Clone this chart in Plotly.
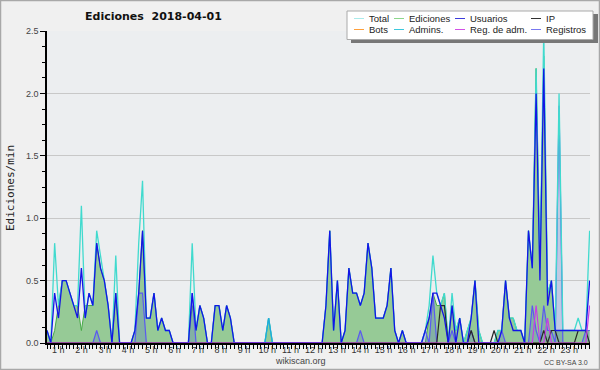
import plotly.graph_objects as go

# 10-minute buckets, index 0..142
usuarios = [
    0.1, 0, 0.4, 0.2, 0.5, 0.5, 0.4, 0.3, 0.2, 0.6, 0.2, 0.4,
    0.3, 0.8, 0.6, 0.5, 0.3, 0, 0.4, 0, 0, 0, 0, 0.1,
    0.4, 0.9, 0.2, 0.2, 0.4, 0.1, 0.2, 0.1, 0.1, 0, 0, 0,
    0, 0, 0.4, 0.1, 0.3, 0.2, 0, 0, 0.3, 0.3, 0.1, 0.3,
    0.2, 0, 0, 0, 0, 0, 0, 0, 0, 0, 0, 0,
    0, 0, 0, 0, 0, 0, 0, 0, 0, 0, 0, 0,
    0, 0.3, 0.9, 0.1, 0.5, 0, 0.1, 0.6, 0.4, 0.4, 0.3, 0.4,
    0.8, 0.6, 0.2, 0.2, 0.2, 0.3, 0.6, 0.1, 0, 0.1, 0, 0,
    0, 0, 0, 0.1, 0.2, 0.4, 0.4, 0.3, 0.2, 0, 0.3, 0,
    0.2, 0, 0, 0.2, 0.5, 0, 0, 0, 0, 0, 0, 0.1,
    0.5, 0.2, 0.1, 0.1, 0.1, 0, 0.9, 0.6, 2.0, 0.5, 2.2, 0.3,
    0.5, 0.1, 0.1, 0.1, 0.1, 0.1, 0.1, 0.1, 0.1, 0.1, 0.5,
]
total = [
    0.1, 0, 0.8, 0.3, 0.5, 0.5, 0.4, 0.3, 0.3, 1.1, 0.2, 0.4,
    0.3, 0.9, 0.7, 0.5, 0.3, 0, 0.7, 0, 0, 0, 0, 0.1,
    0.8, 1.3, 0.2, 0.2, 0.4, 0.1, 0.2, 0.1, 0.1, 0, 0, 0,
    0, 0, 0.8, 0.1, 0.3, 0.2, 0, 0, 0.3, 0.3, 0.1, 0.3,
    0.2, 0, 0, 0, 0, 0, 0, 0, 0, 0, 0.2, 0,
    0, 0, 0, 0, 0, 0, 0, 0, 0, 0, 0, 0,
    0, 0.3, 0.9, 0.1, 0.5, 0, 0.1, 0.6, 0.4, 0.4, 0.3, 0.4,
    0.8, 0.6, 0.2, 0.2, 0.2, 0.3, 0.6, 0.1, 0, 0.1, 0, 0,
    0, 0, 0, 0.1, 0.3, 0.7, 0.4, 0.3, 0.4, 0, 0.4, 0.1,
    0.2, 0, 0.1, 0.2, 0.5, 0.1, 0, 0, 0, 0, 0.1, 0.1,
    0.5, 0.2, 0.2, 0.1, 0.1, 0, 0.9, 0.6, 2.2, 0.6, 2.5, 0.4,
    0.5, 0.1, 2.0, 0.1, 0.1, 0.1, 0.1, 0.2, 0.1, 0.1, 0.9,
]
ediciones = [
    0.1, 0, 0.1, 0.3, 0.5, 0.5, 0.4, 0.3, 0.3, 0.1, 0.3, 0.3,
    0.3, 0.8, 0.6, 0.5, 0.3, 0, 0.4, 0, 0, 0, 0, 0.1,
    0.4, 0.9, 0.2, 0.2, 0.4, 0.1, 0.2, 0.1, 0.1, 0, 0, 0,
    0, 0, 0.3, 0.1, 0.3, 0.2, 0, 0, 0.3, 0.3, 0.1, 0.3,
    0.2, 0, 0, 0, 0, 0, 0, 0, 0, 0, 0.2, 0,
    0, 0, 0, 0, 0, 0, 0, 0, 0, 0, 0, 0,
    0, 0.3, 0.9, 0.1, 0.5, 0, 0.1, 0.6, 0.4, 0.4, 0.3, 0.4,
    0.8, 0.6, 0.2, 0.2, 0.2, 0.3, 0.6, 0.1, 0, 0.1, 0, 0,
    0, 0, 0, 0, 0.2, 0.4, 0.3, 0.3, 0.4, 0, 0.3, 0.1,
    0.2, 0, 0.1, 0.2, 0.5, 0.1, 0, 0, 0, 0, 0.1, 0.1,
    0.5, 0.2, 0.2, 0.1, 0.1, 0, 0.9, 0.6, 2.2, 0.6, 2.3, 0.4,
    0.5, 0.1, 0.1, 0.1, 0.1, 0.1, 0.1, 0.1, 0.1, 0.1, 0.1,
]
ip = [0] * 103 + [0.3, 0.3, 0, 0, 0, 0, 0, 0, 0.1, 0, 0, 0, 0, 0, 0.1, 0,
                  0, 0, 0, 0, 0, 0, 0, 0, 0, 0, 0, 0.1, 0, 0.1, 0.1, 0, 0, 0, 0, 0, 0.1, 0.1, 0.1, 0, 0]
bots = [0] * 143
admins = [0] * 58 + [0.2] + [0] * 84
reg_adm = [0] * 128 + [0.3, 0, 0, 0.2, 0, 0, 0, 0, 0, 0, 0, 0, 0, 0, 0.3]
registros = ([0, 0, 0, 0, 0, 0, 0, 0, 0, 0, 0, 0,
              0, 0.1, 0, 0, 0, 0, 0, 0, 0, 0, 0, 0,
              0.4, 0.4, 0, 0, 0, 0, 0, 0, 0, 0, 0, 0,
              0, 0, 0.4, 0, 0, 0, 0, 0, 0, 0, 0, 0]
             + [0] * 34 + [0.1] + [0] * 16 + [0.1, 0, 0.4, 0, 0, 0, 0, 0.1, 0, 0, 0, 0, 0.1, 0, 0, 0, 0, 0, 0, 0, 0.1,
                           0, 0, 0, 0, 0, 0, 0, 0.3, 0.1, 0, 0.3, 0.1, 0.1, 0, 1.9, 0, 0, 0, 0, 0, 0, 0.1, 0.1])
registros = (registros + [0] * 143)[:143]

hours = list(range(1, 24))
hour_labels = [f"{h} h" for h in hours]

x = list(range(len(usuarios)))
hour_pos = [6.077 * h - 3.12 for h in hours]

L, R, T, B = 47, 10, 31, 27
W, H = 600, 370
PW, PH = W - L - R, H - T - B


def px(xp):
    return (xp - L) / PW


def py(yp):
    return (H - B - yp) / PH


fig = go.Figure()
fig.add_trace(go.Scatter(x=x, y=ediciones, mode="lines", fill="tozeroy",
                         line=dict(color="rgb(70,170,70)", width=1),
                         fillcolor="rgb(150,202,150)", name="Ediciones"))
fig.add_trace(go.Scatter(x=x, y=registros, mode="lines", fill="tozeroy",
                         line=dict(color="rgb(90,90,240)", width=1.2),
                         fillcolor="rgba(90,120,200,0.3)", name="Registros"))
fig.add_trace(go.Scatter(x=x, y=total, mode="lines",
                         line=dict(color="rgb(64,218,206)", width=1.3), name="Total"))
fig.add_trace(go.Scatter(x=x, y=admins, mode="lines",
                         line=dict(color="rgb(30,170,220)", width=1.3), name="Admins."))
fig.add_trace(go.Scatter(x=x, y=bots, mode="lines",
                         line=dict(color="rgb(255,160,40)", width=1), name="Bots"))
fig.add_trace(go.Scatter(x=x, y=ip, mode="lines",
                         line=dict(color="rgb(40,40,40)", width=1.2), name="IP"))
fig.add_trace(go.Scatter(x=x, y=usuarios, mode="lines",
                         line=dict(color="rgb(20,20,230)", width=1.3), name="Usuarios"))
fig.add_trace(go.Scatter(x=x, y=reg_adm, mode="lines",
                         line=dict(color="rgb(200,60,230)", width=1.2), name="Reg. de adm."))

fig.update_layout(
    width=W, height=H,
    margin=dict(l=L, r=R, t=T, b=B),
    paper_bgcolor="#f0f0f0", plot_bgcolor="#eceef0",
    showlegend=False,
    font=dict(family="Liberation Sans", size=9, color="#333"),
    xaxis=dict(range=[0, 142.1], tickvals=hour_pos, ticktext=hour_labels, tickangle=0,
               ticks="", showgrid=False, zeroline=False, automargin=False,
               ticklabelstandoff=-3,
               showline=True, linecolor="black", linewidth=1.5,
               tickfont=dict(family="Liberation Sans", size=9, color="#333"),
               minor=dict(tick0=0, dtick=1, ticks="outside", ticklen=4,
                          tickcolor="black", showgrid=False)),
    yaxis=dict(range=[0, 2.5], dtick=0.5, tickformat=".1f", ticks="outside",
               ticklen=5, tickcolor="black", showgrid=True, gridcolor="#c8c8c8",
               zeroline=False, showline=True, linecolor="black", linewidth=1.5,
               automargin=False,
               tickfont=dict(family="Liberation Sans", size=9, color="#444"),
               minor=dict(dtick=0.125, ticks="outside", ticklen=3, tickcolor="black", showgrid=False)),
)

fig.add_annotation(text="<b>Ediciones  2018-04-01</b>", xref="paper", yref="paper",
                   x=px(153), y=py(16.5), xanchor="center", yanchor="middle", showarrow=False,
                   font=dict(family="DejaVu Sans", size=11, color="#111"))
fig.add_annotation(text="Ediciones/min", xref="paper", yref="paper", x=px(10), y=py(188),
                   xanchor="center", yanchor="middle", textangle=-90, showarrow=False,
                   font=dict(family="DejaVu Sans Mono", size=11, color="#222"))
fig.add_annotation(text="wikiscan.org", xref="paper", yref="paper", x=px(300), y=py(361),
                   xanchor="center", yanchor="middle", showarrow=False,
                   font=dict(family="Liberation Sans", size=9, color="#444"))
fig.add_annotation(text="CC BY-SA 3.0", xref="paper", yref="paper", x=px(590), y=py(362),
                   xanchor="right", yanchor="middle", showarrow=False,
                   font=dict(family="Liberation Sans", size=7, color="#444"))

# legend (manual)
leg_items = [("Total", "rgb(170,235,235)"), ("Ediciones", "rgb(140,215,140)"),
             ("Usuarios", "rgb(60,60,220)"), ("IP", "rgb(50,50,50)"),
             ("Bots", "rgb(255,160,60)"), ("Admins.", "rgb(60,200,220)"),
             ("Reg. de adm.", "rgb(210,80,230)"), ("Registros", "rgb(120,120,240)")]
col_x = [354, 394, 455, 531]
row_y = [18.5, 29.5]
shapes = [
    dict(type="rect", xref="paper", yref="paper", x0=px(0.5), x1=px(599.5),
         y0=py(369.5), y1=py(0.5), line=dict(color="#a8a8a8", width=1.5), fillcolor="rgba(0,0,0,0)"),
    dict(type="rect", xref="paper", yref="paper", x0=px(351), x1=px(598), y0=py(43), y1=py(14),
         line=dict(width=0), fillcolor="#777"),
    dict(type="rect", xref="paper", yref="paper", x0=px(347), x1=px(593), y0=py(39.5), y1=py(11),
         line=dict(color="#aaa", width=1), fillcolor="white"),
]
for k, (name, col) in enumerate(leg_items):
    r, c = divmod(k, 4)
    shapes.append(dict(type="line", xref="paper", yref="paper", x0=px(col_x[c]), x1=px(col_x[c] + 10),
                       y0=py(row_y[r]), y1=py(row_y[r]), line=dict(color=col, width=1)))
    fig.add_annotation(text=name, xref="paper", yref="paper", x=px(col_x[c] + 13), y=py(row_y[r]),
                       xanchor="left", yanchor="middle", showarrow=False,
                       font=dict(family="Liberation Sans", size=9.5, color="#222"))
fig.update_layout(shapes=shapes)

fig.write_html("out.html", config={"displayModeBar": False},
               post_script="document.body.style.margin='0px';document.body.style.overflow='hidden';")
